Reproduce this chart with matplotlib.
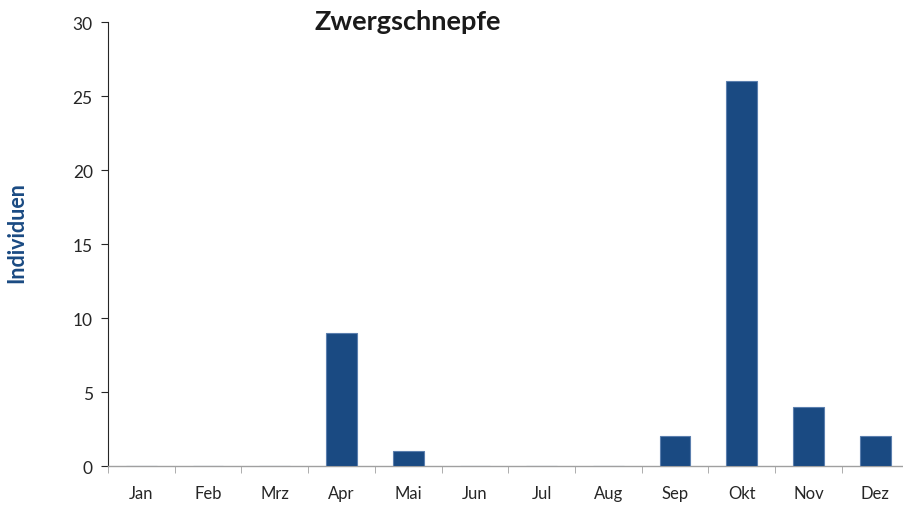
import matplotlib
matplotlib.use("Agg")
import matplotlib.pyplot as plt
import numpy as np

months = ["Jan", "Feb", "Mrz", "Apr", "Mai", "Jun", "Jul", "Aug", "Sep", "Okt", "Nov", "Dez"]
counts = [0, 0, 0, 9, 1, 0, 0, 0, 2, 26, 4, 2]

plt.rcParams["font.family"] = ["Lato", "DejaVu Sans"]

fig = plt.figure(figsize=(9.04, 5.06), dpi=100)
ax = fig.add_axes([0.1195, 0.077, 0.8855, 0.8775])

x = np.arange(len(months))
ax.bar(x, counts, width=0.46, color="#1a4a82", edgecolor="#5b7fae", linewidth=0.8, zorder=3)

ax.set_xlim(-0.5, len(months) - 0.5)
ax.set_ylim(0, 30)
ax.set_yticks(range(0, 31, 5))
ax.set_xticks(x)
ax.set_xticklabels(months)
ax.set_xticks(np.arange(-0.5, len(months), 1), minor=True)
ax.tick_params(axis="x", which="major", length=0, pad=14, labelsize=12, colors="#262626")
ax.tick_params(axis="x", which="minor", length=5, color="#a0a0a0")
ax.tick_params(axis="y", length=5, width=0.8, color="#262626", labelsize=12.5, labelcolor="#262626", pad=6)

for side in ("top", "right"):
    ax.spines[side].set_visible(False)
ax.spines["left"].set_color("#262626")
ax.spines["left"].set_linewidth(0.8)
ax.spines["bottom"].set_color("#a0a0a0")
ax.spines["bottom"].set_linewidth(1.0)

fig.text(0.451, 0.957, "Zwergschnepfe", ha="center", va="center", fontsize=19.5, fontweight="bold", color="#1a1a1a")
fig.text(0.019, 0.541, "Individuen", ha="center", va="center", rotation=90, fontsize=15.5, fontweight="bold", color="#1a4a82")

fig.savefig("out.png", dpi=100)
